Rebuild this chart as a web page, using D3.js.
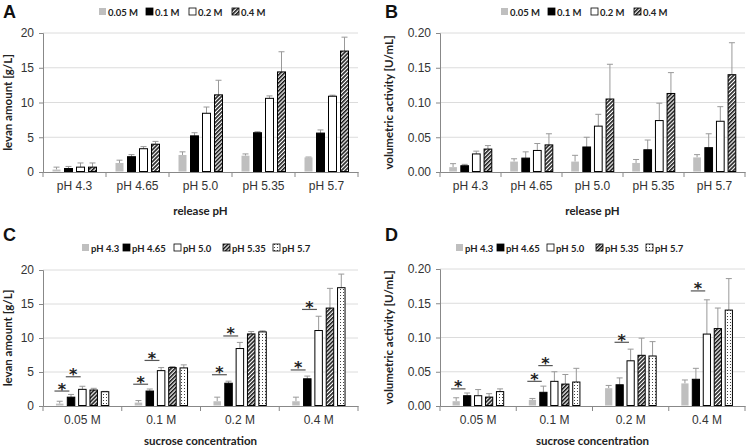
<!DOCTYPE html>
<html>
<head>
<meta charset="utf-8">
<script src="https://cdn.jsdelivr.net/npm/d3@7.9.0/dist/d3.min.js"></script>
<style>
  body { margin: 0; background: #fff; }
  svg { display: block; font-family: Lato, "Open Sans", sans-serif; }
  .tick text { fill: #333; font-size: 12px; }
</style>
</head>
<body>
<svg id="chart" width="746" height="446"></svg>
<script>
const phLabels = ['pH 4.3', 'pH 4.65', 'pH 5.0', 'pH 5.35', 'pH 5.7'];
const concLabels = ['0.05 M', '0.1 M', '0.2 M', '0.4 M'];

// rows: pH, cols: sucrose concentration
const levanMean = [
    [0.35, 0.5, 0.7, 0.7],
    [1.3, 2.2, 3.35, 4.0],
    [2.45, 5.2, 8.45, 11.1],
    [2.35, 5.65, 10.6, 14.4],
    [2.1, 5.6, 10.9, 17.4]
];
const levanErr = [
    [0.35, 0.3, 0.6, 0.6],
    [0.4, 0.3, 0.3, 0.4],
    [0.45, 0.45, 0.9, 2.1],
    [0.25, 0.15, 0.35, 2.9],
    [0.05, 0.45, 0.15, 2.0]
];
const activityMean = [
    [0.007, 0.009, 0.026, 0.033],
    [0.015, 0.02, 0.031, 0.039],
    [0.015, 0.036, 0.066, 0.105],
    [0.013, 0.032, 0.074, 0.113],
    [0.021, 0.035, 0.073, 0.14]
];
const activityErr = [
    [0.005, 0.002, 0.004, 0.005],
    [0.004, 0.009, 0.01, 0.016],
    [0.009, 0.014, 0.017, 0.05],
    [0.005, 0.014, 0.025, 0.03],
    [0.004, 0.02, 0.021, 0.046]
];

// significance bars: [concentration group, first pH index, height]
const levanSig = [[0, 0, 2.2], [0, 1, 4.3], [1, 0, 3.2], [1, 1, 6.7], [2, 0, 4.6], [2, 1, 10.3], [3, 0, 5.3], [3, 1, 14.2]];
const activitySig = [[0, 0, 0.025], [1, 0, 0.036], [1, 1, 0.059], [2, 1, 0.093], [3, 1, 0.168]];

const levanTicks = [0, 5, 10, 15, 20];
const activityTicks = [0, 0.05, 0.10, 0.15, 0.20];

const svg = d3.select('#chart');
const defs = svg.append('defs');

let hatch = defs.append('pattern').attr('id', 'hatch')
    .attr('patternUnits', 'userSpaceOnUse').attr('width', 2.8).attr('height', 2.8)
    .attr('patternTransform', 'rotate(45)');
hatch.append('rect').attr('width', 2.8).attr('height', 2.8).attr('fill', '#fff');
hatch.append('rect').attr('width', 1.6).attr('height', 2.8).attr('fill', '#1a1a1a');

let dots = defs.append('pattern').attr('id', 'dots')
    .attr('patternUnits', 'userSpaceOnUse').attr('width', 3).attr('height', 3);
dots.append('rect').attr('width', 3).attr('height', 3).attr('fill', '#fff');
dots.append('rect').attr('x', 1).attr('y', 1).attr('width', 1).attr('height', 1).attr('fill', '#444');

const styles = [
    { fill: '#bfbfbf', stroke: 'none' },
    { fill: '#000', stroke: '#000' },
    { fill: '#fff', stroke: '#000' },
    { fill: 'url(#hatch)', stroke: '#000' },
    { fill: 'url(#dots)', stroke: '#000' }
];

function drawPanel(p) {
    const g = svg.append('g');
    const x0 = d3.scaleBand().domain(p.groups).range([p.left, p.right]);
    const x1 = d3.scaleBand().domain(d3.range(p.series.length))
        .range([0, x0.bandwidth()]).paddingInner(0.25).paddingOuter(p.outer);
    const y = d3.scaleLinear().domain([0, p.ticks[p.ticks.length - 1]]).range([p.bottom, p.top]);

    // grid
    g.selectAll('.grid').data(p.ticks.slice(1)).join('line')
        .attr('x1', p.left).attr('x2', p.right)
        .attr('y1', d => y(d)).attr('y2', d => y(d))
        .attr('stroke', '#dcdcdc');

    // y axis
    const yAxis = g.append('g').attr('transform', `translate(${p.left},0)`)
        .call(d3.axisLeft(y).tickValues(p.ticks).tickFormat(p.fmt).tickSize(4).tickPadding(5));
    yAxis.select('.domain').attr('stroke', '#888');
    yAxis.selectAll('.tick line').attr('stroke', '#888');

    // x axis with separators between groups
    const xAxis = g.append('g').attr('transform', `translate(0,${p.bottom})`)
        .call(d3.axisBottom(x0).tickSize(0).tickPadding(9));
    xAxis.select('.domain').attr('stroke', '#888');
    const seps = d3.range(p.groups.length + 1).map(i => p.left + i * x0.step());
    g.selectAll('.sep').data(seps).join('line')
        .attr('x1', d => d).attr('x2', d => d)
        .attr('y1', p.bottom).attr('y2', p.bottom + 5)
        .attr('stroke', '#888');

    // bars
    p.groups.forEach((grp, gi) => {
        p.series.forEach((s, si) => {
            const v = p.value(gi, si);
            const e = p.err(gi, si);
            const bx = x0(grp) + x1(si);
            const bw = x1.bandwidth();
            const cx = bx + bw / 2;
            // error bar
            g.append('line').attr('x1', cx).attr('x2', cx)
                .attr('y1', y(v)).attr('y2', y(v + e)).attr('stroke', '#999');
            g.append('line').attr('x1', cx - 3).attr('x2', cx + 3)
                .attr('y1', y(v + e)).attr('y2', y(v + e)).attr('stroke', '#999');
            const st = styles[p.styleIndex(si)];
            g.append('rect')
                .attr('x', bx + 0.5).attr('y', y(v))
                .attr('width', bw - 1).attr('height', Math.max(0, p.bottom - y(v) - 0.5))
                .attr('fill', st.fill).attr('stroke', st.stroke).attr('stroke-width', 1);
        });
    });

    // significance markers
    if (p.sig) {
        p.sig.forEach(([gi, si, v]) => {
            const bw = x1.bandwidth();
            const a = x0(p.groups[gi]) + x1(si) - 1;
            const b = x0(p.groups[gi]) + x1(si + 1) + bw * 0.3;
            g.append('line').attr('x1', a).attr('x2', b)
                .attr('y1', y(v)).attr('y2', y(v)).attr('stroke', '#555').attr('stroke-width', 1.2);
            g.append('text').attr('x', (a + b) / 2).attr('y', y(v) + 3.5)
                .attr('text-anchor', 'middle').attr('font-size', 16).attr('font-weight', 'bold')
                .attr('font-family', 'DejaVu Sans, sans-serif')
                .attr('fill', '#222').text('*');
        });
    }

    // axis titles
    g.append('text')
        .attr('transform', `translate(${p.ytX},${(p.top + p.bottom) / 2}) rotate(-90)`)
        .attr('text-anchor', 'middle').attr('font-size', 11.5).attr('font-weight', 'bold')
        .attr('fill', '#222').text(p.yTitle);
    g.append('text').attr('x', (p.left + p.right) / 2).attr('y', p.xtY)
        .attr('text-anchor', 'middle').attr('font-size', 11.5).attr('font-weight', 'bold')
        .attr('fill', '#222').text(p.xTitle);

    // panel letter
    g.append('text').attr('x', p.letterX).attr('y', p.letterY)
        .attr('font-size', 18).attr('font-weight', 'bold').attr('font-family', 'Liberation Sans, Arial, sans-serif')
        .attr('fill', '#111').text(p.letter);

    // legend
    const leg = g.append('g');
    p.series.forEach((s, si) => {
        const lx = p.legendX[si];
        const st = styles[p.styleIndex(si)];
        leg.append('rect').attr('x', lx).attr('y', p.legendY - 4).attr('width', 7).attr('height', 7)
            .attr('fill', st.fill).attr('stroke', st.stroke === 'none' ? 'none' : '#000').attr('stroke-width', 0.8);
        leg.append('text').attr('x', lx + 9).attr('y', p.legendY + 3.5)
            .attr('font-size', 9.5).attr('font-weight', 'bold').attr('fill', '#222').text(s);
    });
}

const fmt1 = d3.format('d');
const fmt2 = d3.format('.2f');

drawPanel({
    letter: 'A', letterX: 3, letterY: 18,
    left: 43, right: 358, top: 33, bottom: 172, outer: 0.75,
    groups: phLabels, series: concLabels,
    value: (g, s) => levanMean[g][s], err: (g, s) => levanErr[g][s],
    styleIndex: s => s, ticks: levanTicks, fmt: fmt1,
    yTitle: 'levan amount [g/L]', ytX: 12, xTitle: 'release pH', xtY: 215,
    legendX: [99, 146, 189, 232], legendY: 12
});

drawPanel({
    letter: 'B', letterX: 385, letterY: 18,
    left: 440, right: 745, top: 33, bottom: 172, outer: 0.75,
    groups: phLabels, series: concLabels,
    value: (g, s) => activityMean[g][s], err: (g, s) => activityErr[g][s],
    styleIndex: s => s, ticks: activityTicks, fmt: fmt2,
    yTitle: 'volumetric activity [U/mL]', ytX: 393, xTitle: 'release pH', xtY: 215,
    legendX: [501, 548, 591, 634], legendY: 12
});

drawPanel({
    letter: 'C', letterX: 3, letterY: 241,
    left: 43, right: 358, top: 270, bottom: 406, outer: 1.1,
    groups: concLabels, series: phLabels,
    value: (g, s) => levanMean[s][g], err: (g, s) => levanErr[s][g],
    styleIndex: s => s, ticks: levanTicks, fmt: fmt1, sig: levanSig,
    yTitle: 'levan amount [g/L]', ytX: 12, xTitle: 'sucrose concentration', xtY: 445,
    legendX: [82, 123, 174, 223, 273], legendY: 248
});

drawPanel({
    letter: 'D', letterX: 385, letterY: 241,
    left: 440, right: 745, top: 269, bottom: 406, outer: 1.1,
    groups: concLabels, series: phLabels,
    value: (g, s) => activityMean[s][g], err: (g, s) => activityErr[s][g],
    styleIndex: s => s, ticks: activityTicks, fmt: fmt2, sig: activitySig,
    yTitle: 'volumetric activity [U/mL]', ytX: 393, xTitle: 'sucrose concentration', xtY: 445,
    legendX: [456, 497, 547, 596, 646], legendY: 248
});
</script>
</body>
</html>
